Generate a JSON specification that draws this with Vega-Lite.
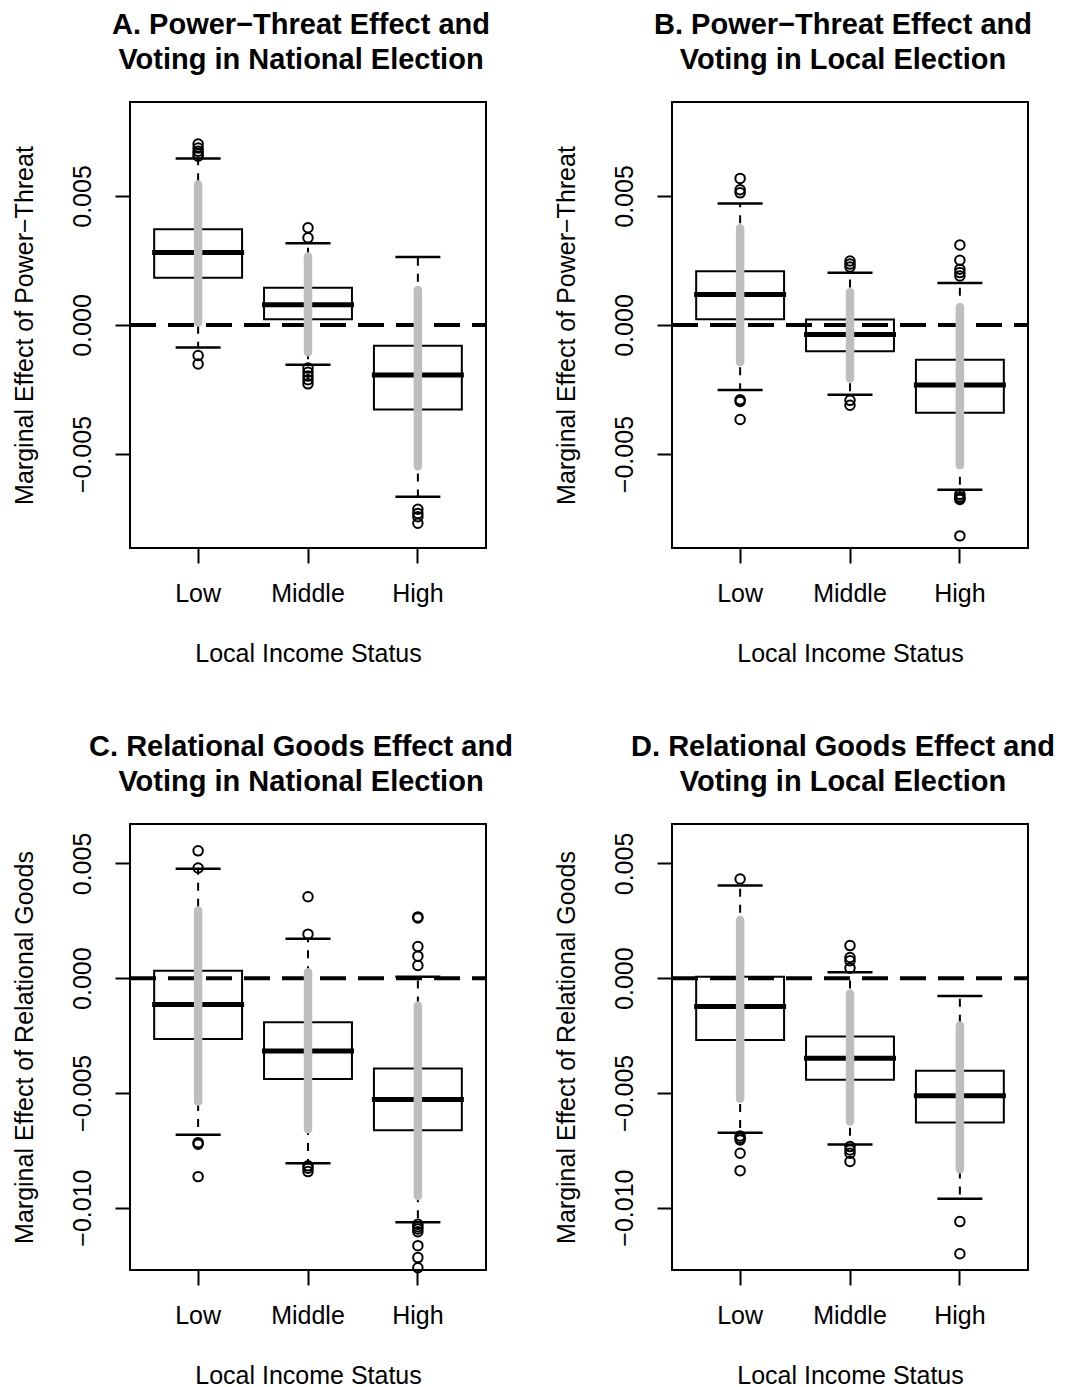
{
  "$schema": "https://vega.github.io/schema/vega-lite/v6.json",
  "background": "white",
  "padding": {"left": 10, "top": 10, "right": 10, "bottom": 0},
  "columns": 2,
  "spacing": {"row": 276, "column": 186},
  "bounds": "flush",
  "datasets": {
    "boxA": [
      {"g": "Low", "q1": 0.00183, "med": 0.00281, "q3": 0.00371, "lo": -0.000875, "hi": 0.00645, "glo": 0.0001, "ghi": 0.00544},
      {"g": "Middle", "q1": 0.00022, "med": 0.000785, "q3": 0.00144, "lo": -0.00154, "hi": 0.00317, "glo": -0.00106, "ghi": 0.00265},
      {"g": "High", "q1": -0.00327, "med": -0.00194, "q3": -0.0008, "lo": -0.00665, "hi": 0.00263, "glo": -0.00547, "ghi": 0.00136}
    ],
    "outA": [
      {"g": "Low", "v": 0.00701}, {"g": "Low", "v": 0.00686}, {"g": "Low", "v": 0.00673}, {"g": "Low", "v": 0.00663}, {"g": "Low", "v": 0.00654},
      {"g": "Low", "v": -0.00118}, {"g": "Low", "v": -0.00151},
      {"g": "Middle", "v": 0.00377}, {"g": "Middle", "v": 0.00338}, {"g": "Middle", "v": -0.00167}, {"g": "Middle", "v": -0.00183}, {"g": "Middle", "v": -0.00198}, {"g": "Middle", "v": -0.00212}, {"g": "Middle", "v": -0.00228},
      {"g": "High", "v": -0.00714}, {"g": "High", "v": -0.0073}, {"g": "High", "v": -0.00743}, {"g": "High", "v": -0.00768}
    ],
    "boxB": [
      {"g": "Low", "q1": 0.00022, "med": 0.00118, "q3": 0.00208, "lo": -0.00252, "hi": 0.00471, "glo": -0.00143, "ghi": 0.00375},
      {"g": "Middle", "q1": -0.00102, "med": -0.00037, "q3": 0.00021, "lo": -0.0027, "hi": 0.00202, "glo": -0.00207, "ghi": 0.00127},
      {"g": "High", "q1": -0.0034, "med": -0.00232, "q3": -0.00135, "lo": -0.00638, "hi": 0.00163, "glo": -0.00543, "ghi": 0.00069}
    ],
    "outB": [
      {"g": "Low", "v": 0.00568}, {"g": "Low", "v": 0.00524}, {"g": "Low", "v": 0.00512}, {"g": "Low", "v": -0.0029}, {"g": "Low", "v": -0.00296}, {"g": "Low", "v": -0.00366},
      {"g": "Middle", "v": 0.00248}, {"g": "Middle", "v": 0.00236}, {"g": "Middle", "v": 0.00225}, {"g": "Middle", "v": -0.00292}, {"g": "Middle", "v": -0.00311},
      {"g": "High", "v": 0.0031}, {"g": "High", "v": 0.00251}, {"g": "High", "v": 0.00216}, {"g": "High", "v": 0.00203}, {"g": "High", "v": 0.0019},
      {"g": "High", "v": -0.00656}, {"g": "High", "v": -0.00665}, {"g": "High", "v": -0.00672}, {"g": "High", "v": -0.00676}, {"g": "High", "v": -0.00817}
    ],
    "boxC": [
      {"g": "Low", "q1": -0.00265, "med": -0.00115, "q3": 0.00032, "lo": -0.00683, "hi": 0.00477, "glo": -0.00538, "ghi": 0.00295},
      {"g": "Middle", "q1": -0.0044, "med": -0.00317, "q3": -0.00192, "lo": -0.00807, "hi": 0.00172, "glo": -0.00658, "ghi": 0.00026},
      {"g": "High", "q1": -0.00663, "med": -0.00529, "q3": -0.00394, "lo": -0.01064, "hi": 0.00006, "glo": -0.00949, "ghi": -0.00119}
    ],
    "outC": [
      {"g": "Low", "v": 0.00555}, {"g": "Low", "v": 0.0048}, {"g": "Low", "v": -0.00717}, {"g": "Low", "v": -0.00724}, {"g": "Low", "v": -0.00865},
      {"g": "Middle", "v": 0.00355}, {"g": "Middle", "v": 0.00192}, {"g": "Middle", "v": -0.00818}, {"g": "Middle", "v": -0.00828}, {"g": "Middle", "v": -0.00843},
      {"g": "High", "v": 0.00267}, {"g": "High", "v": 0.00262}, {"g": "High", "v": 0.00138}, {"g": "High", "v": 0.00096}, {"g": "High", "v": 0.00055},
      {"g": "High", "v": -0.01073}, {"g": "High", "v": -0.01083}, {"g": "High", "v": -0.01093}, {"g": "High", "v": -0.01105}, {"g": "High", "v": -0.01166}, {"g": "High", "v": -0.01218}, {"g": "High", "v": -0.01262}
    ],
    "boxD": [
      {"g": "Low", "q1": -0.0027, "med": -0.00124, "q3": 0.00006, "lo": -0.00674, "hi": 0.00404, "glo": -0.00525, "ghi": 0.00254},
      {"g": "Middle", "q1": -0.00443, "med": -0.00349, "q3": -0.00254, "lo": -0.00725, "hi": 0.00026, "glo": -0.00625, "ghi": -0.00068},
      {"g": "High", "q1": -0.00629, "med": -0.00513, "q3": -0.00404, "lo": -0.00961, "hi": -0.00078, "glo": -0.00833, "ghi": -0.00206}
    ],
    "outD": [
      {"g": "Low", "v": 0.00432}, {"g": "Low", "v": -0.00688}, {"g": "Low", "v": -0.00698}, {"g": "Low", "v": -0.00705}, {"g": "Low", "v": -0.00763}, {"g": "Low", "v": -0.00839},
      {"g": "Middle", "v": 0.00142}, {"g": "Middle", "v": 0.0009}, {"g": "Middle", "v": 0.00076}, {"g": "Middle", "v": 0.00044}, {"g": "Middle", "v": -0.00734}, {"g": "Middle", "v": -0.00749}, {"g": "Middle", "v": -0.00763}, {"g": "Middle", "v": -0.00799},
      {"g": "High", "v": -0.01061}, {"g": "High", "v": -0.01201}
    ]
  },
  "concat": [
    {
      "width": 356, "height": 446,
      "title": {"text": ["A. Power\u2212Threat Effect and", "Voting in National Election"]},
      "layer": [
        {"data": {"name": "boxA"}, "mark": {"type": "rule", "strokeDash": [8, 8], "strokeWidth": 2, "color": "black"},
         "encoding": {
           "x": {"field": "g", "type": "nominal", "sort": ["Low", "Middle", "High"], "scale": {"type": "band", "paddingInner": 0, "paddingOuter": 0.12}, "title": "Local Income Status"},
           "y": {"field": "q3", "type": "quantitative", "scale": {"domain": [-0.00864, 0.00864], "nice": false, "zero": false}, "title": "Marginal Effect of Power\u2212Threat", "axis": {"values": [-0.005, 0, 0.005], "format": ".3f", "labelExpr": "replace(datum.label, '-', '\u2212')"}},
           "y2": {"field": "hi"}}},
        {"data": {"name": "boxA"}, "mark": {"type": "rule", "strokeDash": [8, 8], "strokeWidth": 2, "color": "black"},
         "encoding": {
           "x": {"field": "g", "type": "nominal", "sort": ["Low", "Middle", "High"], "title": "Local Income Status"},
           "y": {"field": "q1", "type": "quantitative", "title": "Marginal Effect of Power\u2212Threat"},
           "y2": {"field": "lo"}}},
        {"data": {"name": "boxA"}, "mark": {"type": "bar", "width": {"band": 0.8}, "fill": "white", "stroke": "black", "strokeWidth": 2},
         "encoding": {
           "x": {"field": "g", "type": "nominal", "sort": ["Low", "Middle", "High"], "title": "Local Income Status"},
           "y": {"field": "q1", "type": "quantitative", "title": "Marginal Effect of Power\u2212Threat"},
           "y2": {"field": "q3"}}},
        {"data": {"name": "boxA"}, "mark": {"type": "tick", "size": 45, "thickness": 2.5, "color": "black", "opacity": 1},
         "encoding": {
           "x": {"field": "g", "type": "nominal", "sort": ["Low", "Middle", "High"], "title": "Local Income Status"},
           "y": {"field": "hi", "type": "quantitative", "title": "Marginal Effect of Power\u2212Threat"}}},
        {"data": {"name": "boxA"}, "mark": {"type": "tick", "size": 45, "thickness": 2.5, "color": "black", "opacity": 1},
         "encoding": {
           "x": {"field": "g", "type": "nominal", "sort": ["Low", "Middle", "High"], "title": "Local Income Status"},
           "y": {"field": "lo", "type": "quantitative", "title": "Marginal Effect of Power\u2212Threat"}}},
        {"data": {"name": "boxA"}, "mark": {"type": "tick", "size": 92, "thickness": 5, "color": "black", "opacity": 1},
         "encoding": {
           "x": {"field": "g", "type": "nominal", "sort": ["Low", "Middle", "High"], "title": "Local Income Status"},
           "y": {"field": "med", "type": "quantitative", "title": "Marginal Effect of Power\u2212Threat"}}},
        {"data": {"name": "outA"}, "mark": {"type": "point", "shape": "circle", "filled": false, "size": 90, "strokeWidth": 2, "color": "black", "opacity": 1},
         "encoding": {
           "x": {"field": "g", "type": "nominal", "sort": ["Low", "Middle", "High"], "title": "Local Income Status"},
           "y": {"field": "v", "type": "quantitative", "title": "Marginal Effect of Power\u2212Threat"}}},
        {"data": {"values": [{}]}, "mark": {"type": "rule", "strokeDash": [26, 12], "strokeDashOffset": 12, "strokeWidth": 4, "color": "black"},
         "encoding": {"y": {"datum": 0}}},
        {"data": {"name": "boxA"}, "mark": {"type": "rule", "strokeWidth": 8.5, "strokeCap": "round", "color": "#BEBEBE"},
         "encoding": {
           "x": {"field": "g", "type": "nominal", "sort": ["Low", "Middle", "High"], "title": "Local Income Status"},
           "y": {"field": "glo", "type": "quantitative", "title": "Marginal Effect of Power\u2212Threat"},
           "y2": {"field": "ghi"}}}
      ]
    },
    {
      "width": 356, "height": 446,
      "title": {"text": ["B. Power\u2212Threat Effect and", "Voting in Local Election"]},
      "layer": [
        {"data": {"name": "boxB"}, "mark": {"type": "rule", "strokeDash": [8, 8], "strokeWidth": 2, "color": "black"},
         "encoding": {
           "x": {"field": "g", "type": "nominal", "sort": ["Low", "Middle", "High"], "scale": {"type": "band", "paddingInner": 0, "paddingOuter": 0.12}, "title": "Local Income Status"},
           "y": {"field": "q3", "type": "quantitative", "scale": {"domain": [-0.00864, 0.00864], "nice": false, "zero": false}, "title": "Marginal Effect of Power\u2212Threat", "axis": {"values": [-0.005, 0, 0.005], "format": ".3f", "labelExpr": "replace(datum.label, '-', '\u2212')"}},
           "y2": {"field": "hi"}}},
        {"data": {"name": "boxB"}, "mark": {"type": "rule", "strokeDash": [8, 8], "strokeWidth": 2, "color": "black"},
         "encoding": {
           "x": {"field": "g", "type": "nominal", "sort": ["Low", "Middle", "High"], "title": "Local Income Status"},
           "y": {"field": "q1", "type": "quantitative", "title": "Marginal Effect of Power\u2212Threat"},
           "y2": {"field": "lo"}}},
        {"data": {"name": "boxB"}, "mark": {"type": "bar", "width": {"band": 0.8}, "fill": "white", "stroke": "black", "strokeWidth": 2},
         "encoding": {
           "x": {"field": "g", "type": "nominal", "sort": ["Low", "Middle", "High"], "title": "Local Income Status"},
           "y": {"field": "q1", "type": "quantitative", "title": "Marginal Effect of Power\u2212Threat"},
           "y2": {"field": "q3"}}},
        {"data": {"name": "boxB"}, "mark": {"type": "tick", "size": 45, "thickness": 2.5, "color": "black", "opacity": 1},
         "encoding": {
           "x": {"field": "g", "type": "nominal", "sort": ["Low", "Middle", "High"], "title": "Local Income Status"},
           "y": {"field": "hi", "type": "quantitative", "title": "Marginal Effect of Power\u2212Threat"}}},
        {"data": {"name": "boxB"}, "mark": {"type": "tick", "size": 45, "thickness": 2.5, "color": "black", "opacity": 1},
         "encoding": {
           "x": {"field": "g", "type": "nominal", "sort": ["Low", "Middle", "High"], "title": "Local Income Status"},
           "y": {"field": "lo", "type": "quantitative", "title": "Marginal Effect of Power\u2212Threat"}}},
        {"data": {"name": "boxB"}, "mark": {"type": "tick", "size": 92, "thickness": 5, "color": "black", "opacity": 1},
         "encoding": {
           "x": {"field": "g", "type": "nominal", "sort": ["Low", "Middle", "High"], "title": "Local Income Status"},
           "y": {"field": "med", "type": "quantitative", "title": "Marginal Effect of Power\u2212Threat"}}},
        {"data": {"name": "outB"}, "mark": {"type": "point", "shape": "circle", "filled": false, "size": 90, "strokeWidth": 2, "color": "black", "opacity": 1},
         "encoding": {
           "x": {"field": "g", "type": "nominal", "sort": ["Low", "Middle", "High"], "title": "Local Income Status"},
           "y": {"field": "v", "type": "quantitative", "title": "Marginal Effect of Power\u2212Threat"}}},
        {"data": {"values": [{}]}, "mark": {"type": "rule", "strokeDash": [26, 12], "strokeDashOffset": 12, "strokeWidth": 4, "color": "black"},
         "encoding": {"y": {"datum": 0}}},
        {"data": {"name": "boxB"}, "mark": {"type": "rule", "strokeWidth": 8.5, "strokeCap": "round", "color": "#BEBEBE"},
         "encoding": {
           "x": {"field": "g", "type": "nominal", "sort": ["Low", "Middle", "High"], "title": "Local Income Status"},
           "y": {"field": "glo", "type": "quantitative", "title": "Marginal Effect of Power\u2212Threat"},
           "y2": {"field": "ghi"}}}
      ]
    },
    {
      "width": 356, "height": 446,
      "title": {"text": ["C. Relational Goods Effect and", "Voting in National Election"]},
      "layer": [
        {"data": {"name": "boxC"}, "mark": {"type": "rule", "strokeDash": [8, 8], "strokeWidth": 2, "color": "black"},
         "encoding": {
           "x": {"field": "g", "type": "nominal", "sort": ["Low", "Middle", "High"], "scale": {"type": "band", "paddingInner": 0, "paddingOuter": 0.12}, "title": "Local Income Status"},
           "y": {"field": "q3", "type": "quantitative", "scale": {"domain": [-0.01272, 0.00672], "nice": false, "zero": false}, "title": "Marginal Effect of Relational Goods", "axis": {"values": [-0.01, -0.005, 0, 0.005], "format": ".3f", "labelExpr": "replace(datum.label, '-', '\u2212')"}},
           "y2": {"field": "hi"}}},
        {"data": {"name": "boxC"}, "mark": {"type": "rule", "strokeDash": [8, 8], "strokeWidth": 2, "color": "black"},
         "encoding": {
           "x": {"field": "g", "type": "nominal", "sort": ["Low", "Middle", "High"], "title": "Local Income Status"},
           "y": {"field": "q1", "type": "quantitative", "title": "Marginal Effect of Relational Goods"},
           "y2": {"field": "lo"}}},
        {"data": {"name": "boxC"}, "mark": {"type": "bar", "width": {"band": 0.8}, "fill": "white", "stroke": "black", "strokeWidth": 2},
         "encoding": {
           "x": {"field": "g", "type": "nominal", "sort": ["Low", "Middle", "High"], "title": "Local Income Status"},
           "y": {"field": "q1", "type": "quantitative", "title": "Marginal Effect of Relational Goods"},
           "y2": {"field": "q3"}}},
        {"data": {"name": "boxC"}, "mark": {"type": "tick", "size": 45, "thickness": 2.5, "color": "black", "opacity": 1},
         "encoding": {
           "x": {"field": "g", "type": "nominal", "sort": ["Low", "Middle", "High"], "title": "Local Income Status"},
           "y": {"field": "hi", "type": "quantitative", "title": "Marginal Effect of Relational Goods"}}},
        {"data": {"name": "boxC"}, "mark": {"type": "tick", "size": 45, "thickness": 2.5, "color": "black", "opacity": 1},
         "encoding": {
           "x": {"field": "g", "type": "nominal", "sort": ["Low", "Middle", "High"], "title": "Local Income Status"},
           "y": {"field": "lo", "type": "quantitative", "title": "Marginal Effect of Relational Goods"}}},
        {"data": {"name": "boxC"}, "mark": {"type": "tick", "size": 92, "thickness": 5, "color": "black", "opacity": 1},
         "encoding": {
           "x": {"field": "g", "type": "nominal", "sort": ["Low", "Middle", "High"], "title": "Local Income Status"},
           "y": {"field": "med", "type": "quantitative", "title": "Marginal Effect of Relational Goods"}}},
        {"data": {"name": "outC"}, "mark": {"type": "point", "shape": "circle", "filled": false, "size": 90, "strokeWidth": 2, "color": "black", "opacity": 1},
         "encoding": {
           "x": {"field": "g", "type": "nominal", "sort": ["Low", "Middle", "High"], "title": "Local Income Status"},
           "y": {"field": "v", "type": "quantitative", "title": "Marginal Effect of Relational Goods"}}},
        {"data": {"values": [{}]}, "mark": {"type": "rule", "strokeDash": [26, 12], "strokeDashOffset": 12, "strokeWidth": 4, "color": "black"},
         "encoding": {"y": {"datum": 0}}},
        {"data": {"name": "boxC"}, "mark": {"type": "rule", "strokeWidth": 8.5, "strokeCap": "round", "color": "#BEBEBE"},
         "encoding": {
           "x": {"field": "g", "type": "nominal", "sort": ["Low", "Middle", "High"], "title": "Local Income Status"},
           "y": {"field": "glo", "type": "quantitative", "title": "Marginal Effect of Relational Goods"},
           "y2": {"field": "ghi"}}}
      ]
    },
    {
      "width": 356, "height": 446,
      "title": {"text": ["D. Relational Goods Effect and", "Voting in Local Election"]},
      "layer": [
        {"data": {"name": "boxD"}, "mark": {"type": "rule", "strokeDash": [8, 8], "strokeWidth": 2, "color": "black"},
         "encoding": {
           "x": {"field": "g", "type": "nominal", "sort": ["Low", "Middle", "High"], "scale": {"type": "band", "paddingInner": 0, "paddingOuter": 0.12}, "title": "Local Income Status"},
           "y": {"field": "q3", "type": "quantitative", "scale": {"domain": [-0.01272, 0.00672], "nice": false, "zero": false}, "title": "Marginal Effect of Relational Goods", "axis": {"values": [-0.01, -0.005, 0, 0.005], "format": ".3f", "labelExpr": "replace(datum.label, '-', '\u2212')"}},
           "y2": {"field": "hi"}}},
        {"data": {"name": "boxD"}, "mark": {"type": "rule", "strokeDash": [8, 8], "strokeWidth": 2, "color": "black"},
         "encoding": {
           "x": {"field": "g", "type": "nominal", "sort": ["Low", "Middle", "High"], "title": "Local Income Status"},
           "y": {"field": "q1", "type": "quantitative", "title": "Marginal Effect of Relational Goods"},
           "y2": {"field": "lo"}}},
        {"data": {"name": "boxD"}, "mark": {"type": "bar", "width": {"band": 0.8}, "fill": "white", "stroke": "black", "strokeWidth": 2},
         "encoding": {
           "x": {"field": "g", "type": "nominal", "sort": ["Low", "Middle", "High"], "title": "Local Income Status"},
           "y": {"field": "q1", "type": "quantitative", "title": "Marginal Effect of Relational Goods"},
           "y2": {"field": "q3"}}},
        {"data": {"name": "boxD"}, "mark": {"type": "tick", "size": 45, "thickness": 2.5, "color": "black", "opacity": 1},
         "encoding": {
           "x": {"field": "g", "type": "nominal", "sort": ["Low", "Middle", "High"], "title": "Local Income Status"},
           "y": {"field": "hi", "type": "quantitative", "title": "Marginal Effect of Relational Goods"}}},
        {"data": {"name": "boxD"}, "mark": {"type": "tick", "size": 45, "thickness": 2.5, "color": "black", "opacity": 1},
         "encoding": {
           "x": {"field": "g", "type": "nominal", "sort": ["Low", "Middle", "High"], "title": "Local Income Status"},
           "y": {"field": "lo", "type": "quantitative", "title": "Marginal Effect of Relational Goods"}}},
        {"data": {"name": "boxD"}, "mark": {"type": "tick", "size": 92, "thickness": 5, "color": "black", "opacity": 1},
         "encoding": {
           "x": {"field": "g", "type": "nominal", "sort": ["Low", "Middle", "High"], "title": "Local Income Status"},
           "y": {"field": "med", "type": "quantitative", "title": "Marginal Effect of Relational Goods"}}},
        {"data": {"name": "outD"}, "mark": {"type": "point", "shape": "circle", "filled": false, "size": 90, "strokeWidth": 2, "color": "black", "opacity": 1},
         "encoding": {
           "x": {"field": "g", "type": "nominal", "sort": ["Low", "Middle", "High"], "title": "Local Income Status"},
           "y": {"field": "v", "type": "quantitative", "title": "Marginal Effect of Relational Goods"}}},
        {"data": {"values": [{}]}, "mark": {"type": "rule", "strokeDash": [26, 12], "strokeDashOffset": 12, "strokeWidth": 4, "color": "black"},
         "encoding": {"y": {"datum": 0}}},
        {"data": {"name": "boxD"}, "mark": {"type": "rule", "strokeWidth": 8.5, "strokeCap": "round", "color": "#BEBEBE"},
         "encoding": {
           "x": {"field": "g", "type": "nominal", "sort": ["Low", "Middle", "High"], "title": "Local Income Status"},
           "y": {"field": "glo", "type": "quantitative", "title": "Marginal Effect of Relational Goods"},
           "y2": {"field": "ghi"}}}
      ]
    }
  ],
  "config": {
    "font": "Liberation Sans",
    "view": {"stroke": "black", "strokeWidth": 2},
    "axis": {"grid": false, "domain": false, "tickColor": "black", "tickWidth": 2, "tickSize": 15, "labelColor": "black", "titleColor": "black", "labelFontSize": 25, "titleFontSize": 25, "titleFontWeight": "normal", "labelFont": "Liberation Sans", "titleFont": "Liberation Sans", "labelOverlap": false},
    "axisX": {"labelAngle": 0, "labelAlign": "center", "labelBaseline": "alphabetic", "labelPadding": 38, "titleBaseline": "alphabetic", "titleY": 113, "titleAlign": "center"},
    "axisY": {"labelAngle": -90, "labelAlign": "center", "labelBaseline": "alphabetic", "labelPadding": 25, "titleBaseline": "alphabetic", "titleX": -98, "titleY": 223, "titleAngle": -90, "titleAlign": "center"},
    "title": {"fontSize": 29, "fontWeight": "bold", "font": "Liberation Sans", "color": "black", "anchor": "middle", "baseline": "bottom", "offset": 27, "lineHeight": 35, "dx": -7}
  }
}
